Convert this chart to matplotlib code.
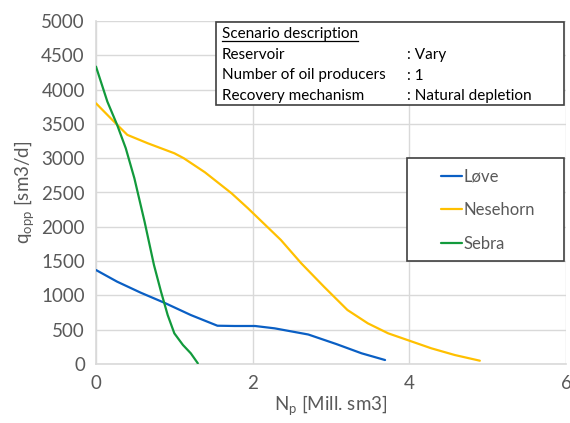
import numpy as np
import matplotlib
matplotlib.use('Agg')
import matplotlib.pyplot as plt
from matplotlib.patches import Rectangle

# Cumulative oil production [Mill. sm3] vs oil rate [sm3/d]
love_np = [0.0, 0.27, 0.57, 0.87, 1.21, 1.55, 1.77, 2.03, 2.28, 2.71, 3.07, 3.39, 3.69]
love_q = [1370, 1200, 1040, 894, 714, 558, 554, 554, 520, 430, 290, 156, 58]

nese_np = [0.0, 0.25, 0.40, 0.66, 1.0, 1.12, 1.39, 1.73, 1.94, 2.36, 2.62,
           2.91, 3.21, 3.47, 3.73, 4.0, 4.28, 4.58, 4.9]
nese_q = [3800, 3510, 3340, 3218, 3072, 3000, 2795, 2489, 2270, 1808, 1468,
          1127, 787, 593, 447, 340, 229, 131, 48]

sebra_np = [0.0, 0.145, 0.27, 0.38, 0.49, 0.62, 0.74, 0.83, 0.915, 1.0, 1.11, 1.21, 1.3]
sebra_q = [4335, 3825, 3485, 3145, 2707, 2075, 1443, 1054, 714, 447, 277, 156, 10]

series_names = ['Løve', 'Nesehorn', 'Sebra']
series_colors = ['#0A5FC4', '#FFC000', '#129A3C']

desc_title = 'Scenario description'
desc_keys = ['Reservoir', 'Number of oil producers', 'Recovery mechanism']
desc_vals = [': Vary', ': 1', ': Natural depletion']

TXT = '#595959'
GRID = '#D9D9D9'

plt.rcParams['font.family'] = ['Lato', 'DejaVu Sans']

W, H = 570, 423
fig = plt.figure(figsize=(W / 100, H / 100), dpi=100)
ax = fig.add_axes([96 / W, 1 - 364 / H, 470 / W, 343 / H])


def fx(px):
    return px / W


def fy(py):
    return 1 - py / H


for (xs, ys), name, col in zip([(love_np, love_q), (nese_np, nese_q), (sebra_np, sebra_q)],
                               series_names, series_colors):
    ax.plot(xs, ys, color=col, lw=1.6, label=name, zorder=3,
            solid_joinstyle='round', solid_capstyle='round')

ax.set_xlim(0, 6)
ax.set_ylim(0, 5000)
ax.set_xticks(np.arange(0, 7, 2))
ax.set_yticks(np.arange(0, 5001, 500))
ax.grid(True, color=GRID, lw=1)
ax.set_axisbelow(True)
for s in ['top', 'right']:
    ax.spines[s].set_visible(False)
for s in ['left', 'bottom']:
    ax.spines[s].set_color(GRID)
    ax.spines[s].set_linewidth(1.2)
ax.tick_params(length=0, labelsize=13.5, colors=TXT, pad=8)
ax.set_xlabel(r'N$_{\mathregular{p}}$ [Mill. sm3]', fontsize=13.5, color=TXT, labelpad=1)
ax.set_ylabel(r'q$_{\mathregular{opp}}$ [sm3/d]', fontsize=13.5, color=TXT, labelpad=3)

# scenario description box
fig.add_artist(Rectangle((fx(216), fy(105)), fx(564) - fx(216), fy(22) - fy(105),
                         transform=fig.transFigure, fill=True, facecolor='white',
                         edgecolor='#404040', lw=1.2, zorder=5))
t = fig.text(fx(222), fy(34), desc_title, fontsize=11, color='black', va='center', zorder=6)
fig.canvas.draw()
bb = t.get_window_extent()
fig.add_artist(plt.Line2D([bb.x0 / W, bb.x1 / W], [fy(41), fy(41)], color='black', lw=0.9,
                          transform=fig.transFigure, zorder=6))
for i, (k, v) in enumerate(zip(desc_keys, desc_vals)):
    yy = fy(55 + i * 20.5)
    fig.text(fx(222), yy, k, fontsize=11, color='black', va='center', zorder=6)
    fig.text(fx(407), yy, v, fontsize=11, color='black', va='center', zorder=6)

# legend box
fig.add_artist(Rectangle((fx(407), fy(261)), fx(564) - fx(407), fy(158) - fy(261),
                         transform=fig.transFigure, fill=True, facecolor='white',
                         edgecolor='#404040', lw=1.2, zorder=5))
leg = fig.legend(loc='center', bbox_to_anchor=(fx(488), fy(210)), frameon=False,
                 fontsize=12, labelcolor=TXT, handlelength=1.3, handletextpad=0.1,
                 labelspacing=1.05)
leg.set_zorder(6)

fig.savefig('out.png', dpi=100)
